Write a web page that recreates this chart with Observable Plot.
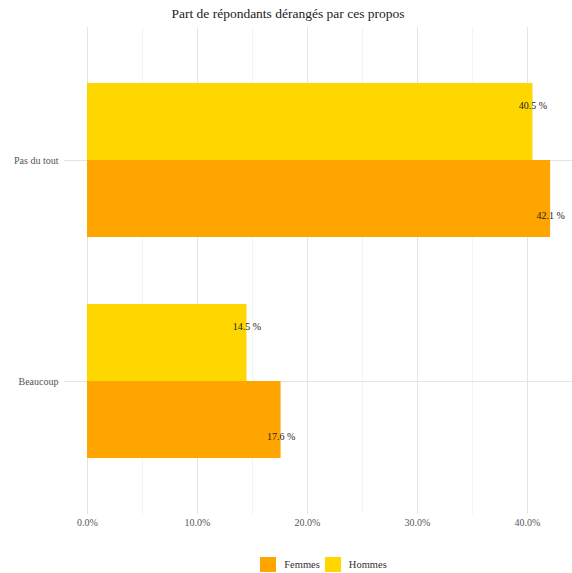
<!DOCTYPE html>
<html>
<head>
<meta charset="utf-8">
<script src="https://cdn.jsdelivr.net/npm/d3@7"></script>
<script src="https://cdn.jsdelivr.net/npm/@observablehq/plot@0.6"></script>
<style>
  body { margin: 0; background: #ffffff; font-family: "Liberation Serif", serif; }
  #title { height: 27px; line-height: 28px; text-align: center; font-size: 13.5px; color: #222; padding-left: 4px; }
  #legend { position: absolute; top: 557px; left: 73px; width: 506px; height: 15px; display: flex; justify-content: center; align-items: center; font-size: 10.5px; color: #333; }
  .sw { width: 16px; height: 15px; display: inline-block; margin-right: 8px; }
  .item { display: flex; align-items: center; margin-right: 5px; }
</style>
</head>
<body>
<div id="title">Part de répondants dérangés par ces propos</div>
<div id="chart"></div>
<div id="legend"></div>
<script>
const categories = ["Pas du tout", "Beaucoup"];
const sexes = ["Femmes", "Hommes"];
const femmes = [42.1, 17.6];
const hommes = [40.5, 14.5];
const xTicks = [0, 10, 20, 30, 40];
const xMinor = [5, 15, 25, 35];
const colors = ["#FFA500", "#FFD700"];

const data = [];
categories.forEach((c, i) => {
  data.push({categorie: c, sexe: "Femmes", valeur: femmes[i]});
  data.push({categorie: c, sexe: "Hommes", valeur: hommes[i]});
});
const dF = data.filter(d => d.sexe === "Femmes");
const dH = data.filter(d => d.sexe === "Hommes");
const fmt = d => d.toFixed(1) + " %";

const chart = Plot.plot({
  width: 572,
  height: 518,
  marginTop: 0,
  marginBottom: 31,
  marginLeft: 64,
  marginRight: 0,
  style: {fontFamily: "Liberation Serif, serif", fontSize: "9.5px", background: "transparent"},
  x: {domain: [-2.09, 44.09], axis: null, label: null},
  y: {domain: categories, paddingInner: 0.303, paddingOuter: 0.253, axis: null, label: null},
  color: {domain: sexes, range: colors},
  marks: [
    Plot.ruleX(xMinor, {stroke: "#f3f3f3", strokeWidth: 1}),
    Plot.ruleX(xTicks, {stroke: "#e4e4e4", strokeWidth: 1}),
    Plot.ruleY(categories, {y: d => d, stroke: "#e4e4e4", strokeWidth: 1}),
    Plot.barX(dH, {x: "valeur", y: "categorie", fill: "sexe", insetBottom: 77}),
    Plot.barX(dF, {x: "valeur", y: "categorie", fill: "sexe", insetTop: 77}),
    Plot.text(dH, {x: "valeur", y: "categorie", text: d => fmt(d.valeur), dy: -55, fill: "#222", fontSize: 10}),
    Plot.text(dF, {x: "valeur", y: "categorie", text: d => fmt(d.valeur), dy: 55, fill: "#222", fontSize: 10}),
    Plot.axisX(xTicks, {tickSize: 0, tickPadding: 4, tickFormat: d => d.toFixed(1) + "%", fill: "#555", fontSize: 10, label: null}),
    Plot.axisY(categories, {tickSize: 0, tickPadding: 6, fill: "#555", fontSize: 10, label: null})
  ]
});
document.getElementById("chart").appendChild(chart);

const legend = document.getElementById("legend");
sexes.forEach((s, i) => {
  const item = document.createElement("div");
  item.className = "item";
  const sw = document.createElement("span");
  sw.className = "sw";
  sw.style.background = colors[i];
  item.appendChild(sw);
  item.appendChild(document.createTextNode(s));
  legend.appendChild(item);
});
</script>
</body>
</html>
